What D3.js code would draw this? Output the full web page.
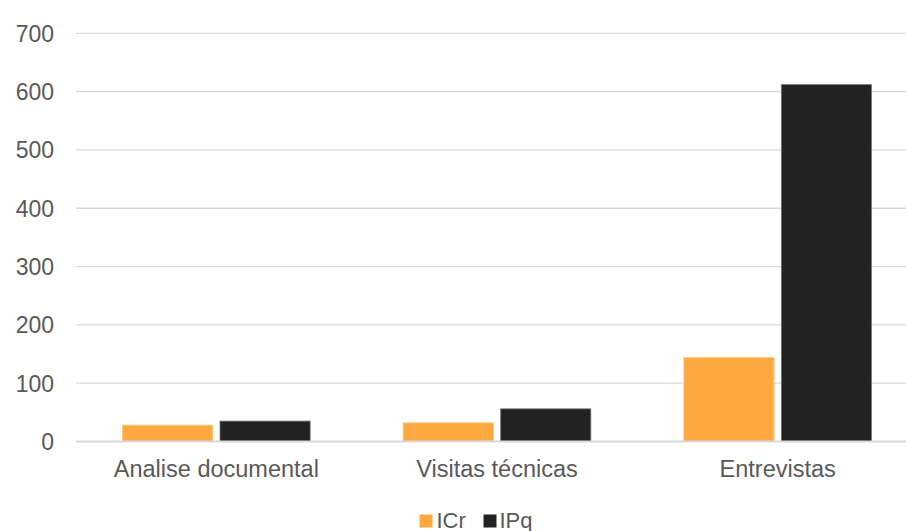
<!DOCTYPE html>
<html>
<head>
<meta charset="utf-8">
<script src="https://cdn.jsdelivr.net/npm/d3@7"></script>
<style>
  html, body { margin: 0; padding: 0; background: #fff; }
  svg { display: block; font-family: "Liberation Sans", Arial, sans-serif; }
</style>
</head>
<body>
<svg id="chart" width="906" height="531"></svg>
<script>
// Categories and series
const categories = ["Analise documental", "Visitas técnicas", "Entrevistas"];
const seriesNames = ["ICr", "IPq"];
const icrValues = [28, 32, 144];
const ipqValues = [35, 56, 612];
const yTicks = [0, 100, 200, 300, 400, 500, 600, 700];

const colors = { ICr: "#FFA940", IPq: "#222222" };
const strokes = { ICr: "#FFC67F", IPq: "#777777" };

const svg = d3.select("#chart");
const textColor = "#595959";

// Scales
const y = d3.scaleLinear().domain([0, 700]).range([441.5, 33.3]);
const x0 = d3.scaleBand().domain(categories).range([76, 918]).paddingInner(0).paddingOuter(0);
const x1 = d3.scaleBand().domain(seriesNames).range([46.5, x0.bandwidth() - 46.5]).paddingInner(0.075).paddingOuter(0);

// Gridlines
svg.append("g")
  .selectAll("line")
  .data(yTicks.filter(d => d > 0))
  .join("line")
  .attr("x1", 76).attr("x2", 918)
  .attr("y1", d => y(d)).attr("y2", d => y(d))
  .attr("stroke", "#d9d9d9")
  .attr("stroke-width", 1.3);

// Y axis labels
const yAxis = d3.axisLeft(y).tickValues(yTicks).tickSize(0).tickPadding(0).tickFormat(d3.format("d"));
const gy = svg.append("g").attr("transform", "translate(54,0)").call(yAxis);
gy.select(".domain").remove();
gy.selectAll("text")
  .attr("fill", textColor)
  .style("font-size", "23px")
  .style("font-family", "'Liberation Sans', Arial, sans-serif")
  .attr("dy", "0.35em");

// Bars
const rows = categories.map((c, i) => ({ category: c, ICr: icrValues[i], IPq: ipqValues[i] }));
const groups = svg.append("g")
  .selectAll("g")
  .data(rows)
  .join("g")
  .attr("transform", d => `translate(${x0(d.category)},0)`);

groups.selectAll("rect")
  .data(d => seriesNames.map(s => ({ key: s, value: d[s] })))
  .join("rect")
  .attr("x", d => x1(d.key))
  .attr("width", x1.bandwidth())
  .attr("y", d => y(d.value))
  .attr("height", d => y(0) - y(d.value))
  .attr("fill", d => colors[d.key])
  .attr("stroke", d => strokes[d.key])
  .attr("stroke-width", 0.8);

// Baseline
svg.append("line")
  .attr("x1", 76).attr("x2", 918)
  .attr("y1", y(0)).attr("y2", y(0))
  .attr("stroke", "#d9d9d9")
  .attr("stroke-width", 2);

// X axis labels
const xAxis = d3.axisBottom(x0).tickSize(0).tickPadding(0);
const gx = svg.append("g").attr("transform", "translate(0,477)").call(xAxis);
gx.select(".domain").remove();
gx.selectAll("text")
  .attr("fill", textColor)
  .attr("dy", "0")
  .attr("y", 0)
  .style("font-size", "23.5px")
  .style("font-family", "'Liberation Sans', Arial, sans-serif");

// Legend
const legendItems = [
  { key: "ICr", x: 419.5, tx: 436.5 },
  { key: "IPq", x: 483.5, tx: 499.5 }
];
const legend = svg.append("g");
legend.selectAll("rect")
  .data(legendItems)
  .join("rect")
  .attr("x", d => d.x).attr("y", 514.5)
  .attr("width", 13).attr("height", 13)
  .attr("fill", d => colors[d.key]);
legend.selectAll("text")
  .data(legendItems)
  .join("text")
  .attr("x", d => d.tx).attr("y", 527.5)
  .attr("fill", textColor)
  .style("font-size", "22px")
  .text(d => d.key);
</script>
</body>
</html>
